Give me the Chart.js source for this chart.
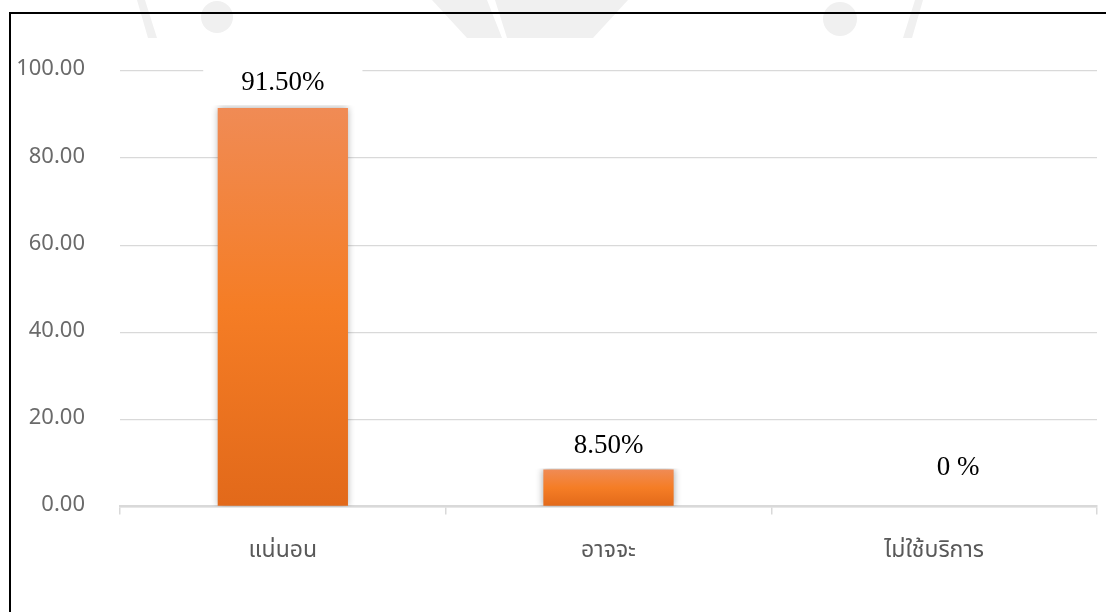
<!DOCTYPE html>
<html>
<head>
<meta charset="utf-8">
<script src="https://cdn.jsdelivr.net/npm/chart.js@4.4.1/dist/chart.umd.min.js"></script>
<style>
  html, body { margin: 0; padding: 0; background: #fff; }
  #wrap { position: relative; width: 1106px; height: 612px; }
</style>
</head>
<body>
<div id="wrap"><canvas id="usage-chart"></canvas></div>
<script>
const categories = ['แน่นอน', 'อาจจะ', 'ไม่ใช้บริการ'];
const percentValues = [91.5, 8.5, 0];
const valueLabels = ['91.50%', '8.50%', '0 %'];
const yTicks = [0, 20, 40, 60, 80, 100];

const axisFont = "'Noto Sans Thai', 'Leelawadee UI', Tahoma, 'Noto Sans', 'DejaVu Sans', sans-serif";

// per-bar vertical gradient, light at the top and darker at the base
function barFill(ctx) {
    const chart = ctx.chart;
    const y = chart.scales.y;
    if (!chart.chartArea || !y) return '#f47d27';
    const top = y.getPixelForValue(ctx.raw || 0);
    const base = y.getPixelForValue(0);
    if (base - top < 1) return '#f47d27';
    const g = chart.ctx.createLinearGradient(0, top, 0, base);
    g.addColorStop(0, '#f08b55');
    g.addColorStop(0.5, '#f57d25');
    g.addColorStop(1, '#e2691a');
    return g;
}

// faint page mark and the frame line round the chart
const pageFrame = {
    id: 'pageFrame',
    beforeDraw(chart) {
        const c = chart.ctx;
        c.save();
        c.fillStyle = '#f0f0f0';
        const polys = [
            [[137, 0], [145, 0], [157, 38], [148, 38]],
            [[432, 0], [487, 0], [502, 38], [467, 38]],
            [[495, 0], [628, 0], [593, 38], [507, 38]],
            [[915, 0], [923, 0], [912, 38], [903, 38]]
        ];
        polys.forEach(p => {
            c.beginPath();
            c.moveTo(p[0][0], p[0][1]);
            for (let i = 1; i < p.length; i++) c.lineTo(p[i][0], p[i][1]);
            c.closePath();
            c.fill();
        });
        c.beginPath(); c.arc(217, 17, 16, 0, Math.PI * 2); c.fill();
        c.beginPath(); c.arc(840, 19, 17, 0, Math.PI * 2); c.fill();
        c.strokeStyle = '#000';
        c.lineWidth = 2;
        c.beginPath();
        c.moveTo(10, 640);
        c.lineTo(10, 13);
        c.lineTo(1120, 13);
        c.stroke();
        c.restore();
    }
};

// soft shadow behind the bars
const barShadow = {
    id: 'barShadow',
    beforeDatasetsDraw(chart) {
        const c = chart.ctx;
        c.save();
        c.shadowColor = 'rgba(0,0,0,0.35)';
        c.shadowBlur = 7;
        c.shadowOffsetX = 0;
        c.shadowOffsetY = 0;
    },
    afterDatasetsDraw(chart) {
        chart.ctx.restore();
    }
};

// value labels on white boxes above each bar
const valueTags = {
    id: 'valueTags',
    afterDatasetsDraw(chart, args, opts) {
        const c = chart.ctx;
        const meta = chart.getDatasetMeta(0);
        c.save();
        c.font = opts.font;
        c.textAlign = 'center';
        c.textBaseline = 'middle';
        meta.data.forEach((bar, i) => {
            const shift = opts.shift[i] || [0, 0];
            const x = bar.x + shift[0];
            const y = bar.y - opts.gap + shift[1];
            const w = c.measureText(valueLabels[i]).width + 76;
            c.fillStyle = '#fff';
            c.fillRect(x - w / 2, y - 22, w, 44);
            c.fillStyle = '#000';
            c.fillText(valueLabels[i], x, y);
        });
        c.restore();
    }
};

document.addEventListener('DOMContentLoaded', function () {
    const canvas = document.getElementById('usage-chart');
    new Chart(canvas, {
        type: 'bar',
        data: {
            labels: categories,
            datasets: [{
                data: percentValues,
                backgroundColor: barFill,
                borderWidth: 0,
                categoryPercentage: 1,
                barPercentage: 0.4
            }]
        },
        options: {
            responsive: true,
            maintainAspectRatio: false,
            animation: false,
            events: [],
            layout: {
                padding: { left: 12, right: 9, top: 71, bottom: 22 }
            },
            scales: {
                x: {
                    grid: {
                        offset: true,
                        drawOnChartArea: false,
                        tickLength: 8,
                        color: '#d9d9d9',
                        lineWidth: 1.5
                    },
                    border: { color: '#d9d9d9', width: 2.5 },
                    ticks: {
                        color: '#595959',
                        padding: 24,
                        font: { family: axisFont, size: 23 }
                    }
                },
                y: {
                    min: 0,
                    max: 100,
                    afterFit(scale) { scale.width = 108; },
                    afterBuildTicks(scale) {
                        scale.ticks = yTicks.map(v => ({ value: v }));
                    },
                    grid: {
                        drawTicks: false,
                        color: '#d9d9d9',
                        lineWidth: 1.3
                    },
                    border: { display: false },
                    ticks: {
                        color: '#6a6a6a',
                        padding: 35,
                        font: { family: axisFont, size: 22 },
                        callback: v => Number(v).toFixed(2)
                    }
                }
            },
            plugins: {
                legend: { display: false },
                tooltip: { enabled: false },
                valueTags: {
                    font: "27px 'Liberation Serif', 'Times New Roman', serif",
                    gap: 25,
                    shift: [[0, 0], [0, 2], [24, -13]]
                }
            }
        },
        plugins: [pageFrame, barShadow, valueTags]
    });
});
</script>
</body>
</html>
